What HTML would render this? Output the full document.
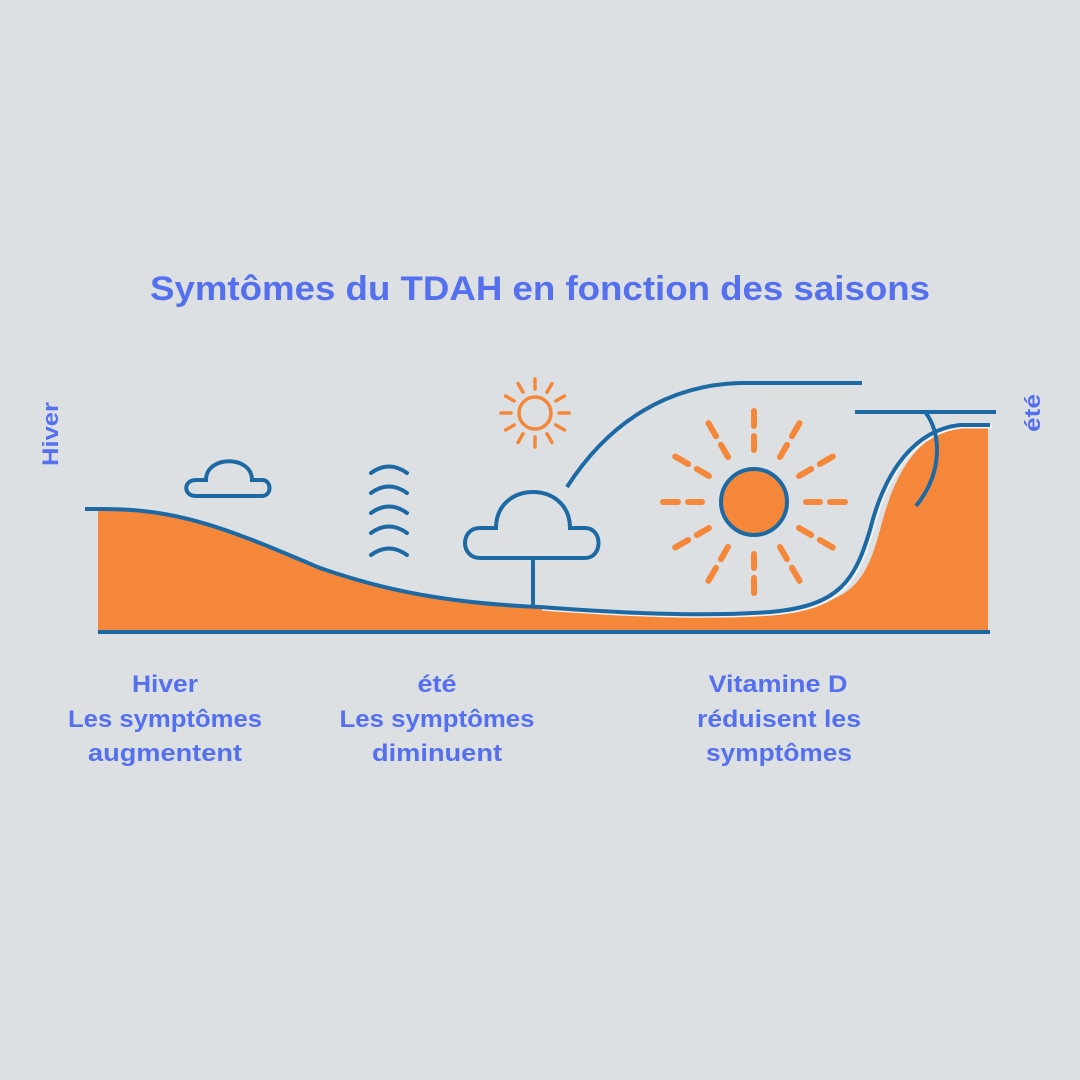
<!DOCTYPE html>
<html><head><meta charset="utf-8"><style>
html,body{margin:0;padding:0;background:#dce0e3;}
svg{display:block}
text{font-family:"Liberation Sans",sans-serif;font-weight:bold;fill:#5470ee}
</style></head><body>
<svg width="1080" height="1080" viewBox="0 0 1080 1080" xmlns="http://www.w3.org/2000/svg">
<rect width="1080" height="1080" fill="#dce0e3"/>
<text x="540" y="300" font-size="34" text-anchor="middle" textLength="780" lengthAdjust="spacingAndGlyphs">Symtômes du TDAH en fonction des saisons</text>
<text transform="translate(58,434) rotate(-90)" font-size="22" text-anchor="middle" textLength="64" lengthAdjust="spacingAndGlyphs">Hiver</text>
<text transform="translate(1040,413) rotate(-90)" font-size="22" text-anchor="middle" textLength="38" lengthAdjust="spacingAndGlyphs">été</text>

<path d="M98,510 C180,508 230,530 320,568 C400,596 470,604 540,608 C620,613 700,617 780,610 C850,604 865,585 880,530 C895,470 920,432 960,428 L988,427 L988,632 L98,632 Z" fill="#f4873a"/>
<path d="M85,509 L98,509 C180,508 230,530 320,568 C400,596 470,604 540,607" fill="none" stroke="#1d69a4" stroke-width="4"/>
<path d="M540,607 C620,613 700,617 770,612 C840,606 855,580 870,530 C885,470 915,430 960,425 L990,425" fill="none" stroke="#f2f2f2" stroke-width="3" transform="translate(2,2)"/>
<path d="M540,607 C620,613 700,617 770,612 C840,606 855,580 870,530 C885,470 915,430 960,425 L990,425" fill="none" stroke="#1d69a4" stroke-width="4"/>
<line x1="98" y1="632" x2="990" y2="632" stroke="#1d69a4" stroke-width="4"/>

<path d="M567,487 C610,420 670,385 740,383 L862,383" fill="none" stroke="#1d69a4" stroke-width="4"/>
<line x1="855" y1="412" x2="996" y2="412" stroke="#1d69a4" stroke-width="4"/>
<path d="M925,412 C940,430 945,470 916,506" fill="none" stroke="#1d69a4" stroke-width="4"/>

<path d="M196,496 L262,496 C272,496 272,480 262,480 L252,480 C252,455 206,455 206,480 L196,480 C183,480 183,496 196,496 Z" fill="none" stroke="#1d69a4" stroke-width="4"/>
<g fill="none" stroke="#1d69a4" stroke-width="4" stroke-linecap="round">
<path d="M371,473 Q389,460 407,473"/>
<path d="M371,493 Q389,480 407,493"/>
<path d="M371,513 Q389,500 407,513"/>
<path d="M371,533 Q389,520 407,533"/>
<path d="M371,555 Q389,542 407,555"/>
</g>
<path d="M480,558 L585,558 C603,558 603,528 585,528 L570,528 C570,480 496,480 496,528 L480,528 C460,528 460,558 480,558 Z" fill="none" stroke="#1d69a4" stroke-width="4"/>
<line x1="533" y1="558" x2="533" y2="605" stroke="#1d69a4" stroke-width="4"/>

<g transform="translate(535,413)" stroke="#f4873a" stroke-width="3.5" stroke-linecap="round" fill="none">
<circle r="16"/>
<g id="sr"><line x1="0" y1="-24" x2="0" y2="-34"/></g>
<use href="#sr" transform="rotate(30)"/><use href="#sr" transform="rotate(60)"/><use href="#sr" transform="rotate(90)"/><use href="#sr" transform="rotate(120)"/><use href="#sr" transform="rotate(150)"/><use href="#sr" transform="rotate(180)"/><use href="#sr" transform="rotate(210)"/><use href="#sr" transform="rotate(240)"/><use href="#sr" transform="rotate(270)"/><use href="#sr" transform="rotate(300)"/><use href="#sr" transform="rotate(330)"/>
</g>
<g transform="translate(754,502)" stroke="#f4873a" stroke-width="6" stroke-linecap="round" fill="none">
<g id="br"><line x1="0" y1="-52" x2="0" y2="-66"/><line x1="0" y1="-76" x2="0" y2="-91"/></g>
<use href="#br" transform="rotate(30)"/><use href="#br" transform="rotate(60)"/><use href="#br" transform="rotate(90)"/><use href="#br" transform="rotate(120)"/><use href="#br" transform="rotate(150)"/><use href="#br" transform="rotate(180)"/><use href="#br" transform="rotate(210)"/><use href="#br" transform="rotate(240)"/><use href="#br" transform="rotate(270)"/><use href="#br" transform="rotate(300)"/><use href="#br" transform="rotate(330)"/>
<circle r="33" fill="#f4873a" stroke="#1d69a4" stroke-width="4"/>
</g>

<g font-size="24" text-anchor="middle" lengthAdjust="spacingAndGlyphs">
<text x="165" y="692" textLength="66" lengthAdjust="spacingAndGlyphs">Hiver</text>
<text x="165" y="727" textLength="194" lengthAdjust="spacingAndGlyphs">Les symptômes</text>
<text x="165" y="761" textLength="154" lengthAdjust="spacingAndGlyphs">augmentent</text>
<text x="437" y="692" textLength="39" lengthAdjust="spacingAndGlyphs">été</text>
<text x="437" y="727" textLength="195" lengthAdjust="spacingAndGlyphs">Les symptômes</text>
<text x="437" y="761" textLength="130" lengthAdjust="spacingAndGlyphs">diminuent</text>
<text x="778" y="692" textLength="139" lengthAdjust="spacingAndGlyphs">Vitamine D</text>
<text x="779" y="727" textLength="164" lengthAdjust="spacingAndGlyphs">réduisent les</text>
<text x="779" y="761" textLength="146" lengthAdjust="spacingAndGlyphs">symptômes</text>
</g>
</svg>
</body></html>
